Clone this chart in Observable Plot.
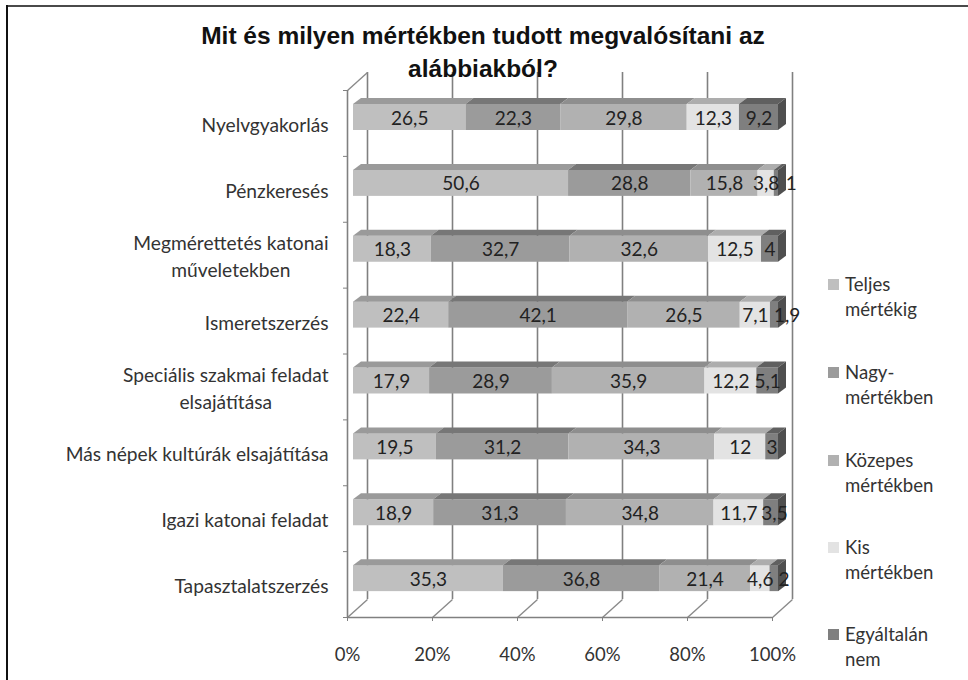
<!DOCTYPE html>
<html><head><meta charset="utf-8">
<script src="https://cdn.jsdelivr.net/npm/d3@7"></script>
<script src="https://cdn.jsdelivr.net/npm/@observablehq/plot@0.6"></script>
<style>
html,body{margin:0;padding:0;background:#fff;width:968px;height:680px;overflow:hidden}
#wrap{position:relative;width:968px;height:680px}
#wrap svg{position:absolute;left:0;top:0;overflow:visible}
.frameT{position:absolute;left:7px;top:5px;width:961px;height:2px;background:#4a4a4a}
.frameL{position:absolute;left:6px;top:5px;width:2px;height:675px;background:#111}
#title{position:absolute;left:140px;width:686px;top:19px;text-align:center;font:bold 24.5px/33px "Liberation Sans",sans-serif;color:#111;white-space:pre-line}
.leg{position:absolute;left:845px;font:18.6px/25px Lato,sans-serif;color:#333;white-space:pre-line}
.sw{position:absolute;left:828px;width:11px;height:11px}
</style></head><body><div id="wrap">
<div class="frameT"></div><div class="frameL"></div>
</div>
<script>
const categories=["Nyelvgyakorlás","Pénzkeresés","Megmérettetés katonai\nműveletekben","Ismeretszerzés","Speciális szakmai feladat\nelsajátítása","Más népek kultúrák elsajátítása","Igazi katonai feladat","Tapasztalatszerzés"];
const seriesNames=["Teljes\nmértékig","Nagy-\nmértékben","Közepes\nmértékben","Kis\nmértékben","Egyáltalán\nnem"];
const teljes=[26.5,50.6,18.3,22.4,17.9,19.5,18.9,35.3];
const nagy=[22.3,28.8,32.7,42.1,28.9,31.2,31.3,36.8];
const kozepes=[29.8,15.8,32.6,26.5,35.9,34.3,34.8,21.4];
const kis=[12.3,3.8,12.5,7.1,12.2,12,11.7,4.6];
const egyaltalan=[9.2,1,4,1.9,5.1,3,3.5,2];
const ticks=[0,20,40,60,80,100];
const frontColors=["#bfbfbf","#9b9b9b","#b1b1b1","#e3e3e3","#7f7f7f"];
const topColors=["#9a9a9a","#777777","#8e8e8e","#adadad","#606060"];
const sideColor="#4f4f4f";
const labelNudge=[0,3.5,0,3,0,0,0.8,2.3]; // last-segment labels spill past the bar

const series=[teljes,nagy,kozepes,kis,egyaltalan];
const W=968,H=680,mL=347,mR=196,mT=90,mB=63;
const pxX=(W-mL-mR)/100,pxY=(H-mT-mB)/8;
const ox=6/pxX, depthX=8/pxX, depthY=6/pxY, barTop=14/pxY, barH=26/pxY;
const wallX=20/pxX, wallY=18/pxY;

const segs=[];
categories.forEach((c,i)=>{
  const total=d3.sum(series,s=>s[i]);
  let acc=0;
  series.forEach((s,k)=>{
    const a=acc/total*100; acc+=s[i]; const b=acc/total*100;
    segs.push({i,k,v:s[i],a:a+ox,b:b+ox,y1:i+barTop,y2:i+barTop+barH,front:frontColors[k],top:topColors[k],
      label:String(s[i]).replace(".",","),lx:(a+b)/2+ox+(k===4?labelNudge[i]:0)});
  });
});
const topPts=segs.flatMap((s,id)=>[
  {id,y:s.y1,x1:s.a,x2:s.b,c:s.top},
  {id,y:s.y1-depthY,x1:s.a+depthX,x2:s.b+depthX,c:s.top}]);
const sidePts=segs.filter(s=>s.k===4).flatMap((s,id)=>[
  {id,x:s.b,y1:s.y1,y2:s.y2},
  {id,x:s.b+depthX,y1:s.y1-depthY,y2:s.y2-depthY}]);

// Category labels: block right-aligned, lines centred in the block
const ctx=document.createElement("canvas").getContext("2d");
const catFont=19.2;
ctx.font=catFont+"px Lato";
const labelRight=328;
const catLabels=categories.map((c,i)=>{
  const w=d3.max(c.split("\n"),l=>ctx.measureText(l).width);
  return {c,i,x:(labelRight-w/2-mL)/pxX};
});

const chart=Plot.plot({
  width:W,height:H,marginLeft:mL,marginRight:mR,marginTop:mT,marginBottom:mB,
  x:{type:"linear",domain:[0,100]},y:{type:"linear",domain:[8,0],range:[H-mB,mT]},
  style:{background:"transparent",fontFamily:"Lato,sans-serif"},
  marks:[
    Plot.ruleX(ticks,{y1:0-wallY,y2:8-wallY,x:d=>d+wallX,stroke:"#808080",strokeWidth:1.6}),
    Plot.link(ticks,{x1:d=>d,x2:d=>d+wallX,y1:8,y2:8-wallY,stroke:"#8a8a8a",strokeWidth:1.4}),
    Plot.link([0],{x1:0,x2:wallX,y1:0,y2:-wallY,stroke:"#8a8a8a",strokeWidth:1.4}),
    Plot.ruleX([0],{y1:0,y2:8,stroke:"#808080",strokeWidth:1.6}),
    Plot.ruleY([8],{x1:0,x2:100,stroke:"#808080",strokeWidth:1.4}),
    Plot.axisY(d3.range(0,9),{anchor:"left",tickSize:4,tickFormat:()=>"",stroke:"#808080",label:null}),
    Plot.axisX(ticks,{anchor:"bottom",tickSize:4,tickPadding:26,tickFormat:d=>d+"%",fontSize:18.5,color:"#333",stroke:"#808080",label:null}),
    Plot.rect(segs,{x1:"a",x2:"b",y1:"y1",y2:"y2",fill:"front"}),
    Plot.areaX(topPts,{y:"y",x1:"x1",x2:"x2",z:"id",fill:"c"}),
    Plot.areaY(sidePts,{x:"x",y1:"y1",y2:"y2",z:"id",fill:sideColor}),
    Plot.text(segs,{x:"lx",y:d=>d.i+barTop+barH/2,text:"label",fontSize:19,fill:"#222",textAnchor:"middle",dy:1}),
    Plot.text(catLabels,{x:"x",y:d=>d.i+0.5,text:"c",fontSize:catFont,fill:"#333",textAnchor:"middle",lineHeight:1.4,lineAnchor:"middle"})
  ]
});
const wrap=document.getElementById("wrap");
wrap.appendChild(chart);
const t=document.createElement("div");t.id="title";
t.textContent="Mit és milyen mértékben tudott megvalósítani az\nalábbiakból?";
wrap.appendChild(t);
const legY=[272,360,448,535,622];
seriesNames.forEach((n,k)=>{
  const d=document.createElement("div");d.className="leg";d.style.top=legY[k]+"px";d.textContent=n;wrap.appendChild(d);
  const s=document.createElement("div");s.className="sw";s.style.top=(legY[k]+7)+"px";s.style.background=frontColors[k];wrap.appendChild(s);
});
</script></body></html>
